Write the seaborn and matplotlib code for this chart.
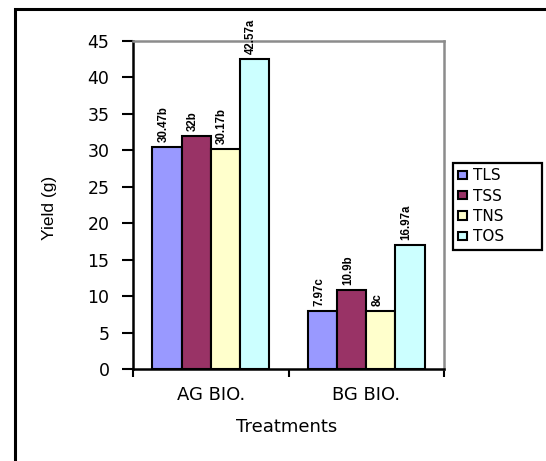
import seaborn as sns
import pandas as pd
from matplotlib import pyplot as plt
from matplotlib.patches import Rectangle

groups = ['AG BIO.', 'BG BIO.']
series = ['TLS', 'TSS', 'TNS', 'TOS']
tls = [30.47, 7.97]
tss = [32, 10.9]
tns = [30.17, 8]
tos = [42.57, 16.97]
tls_lab = ['30.47b', '7.97c']
tss_lab = ['32b', '10.9b']
tns_lab = ['30.17b', '8c']
tos_lab = ['42.57a', '16.97a']
colors = ['#9999FF', '#993366', '#FFFFCC', '#CCFFFF']

rows = []
for s, vals in zip(series, [tls, tss, tns, tos]):
    for g, v in zip(groups, vals):
        rows.append({'Treatments': g, 'Series': s, 'Yield': v})
df = pd.DataFrame(rows)

sns.set_style('white')
plt.rcParams['font.family'] = ['DejaVu Sans']
for key in ['text.color', 'axes.labelcolor', 'xtick.color', 'ytick.color']:
    plt.rcParams[key] = 'black'
narrow = ['Liberation Sans Narrow', 'Liberation Sans', 'DejaVu Sans']

fig = plt.figure(figsize=(5.46, 4.61), dpi=100)
ax = fig.add_axes([133 / 546, 1 - 369 / 461, 311 / 546, 328 / 461])

sns.barplot(data=df, x='Treatments', y='Yield', hue='Series',
            palette=colors, edgecolor='black', linewidth=1.5,
            width=0.75, saturation=1, ax=ax)

# value labels (rotated, a touch left of the bar centre like Excel)
labels = [tls_lab, tss_lab, tns_lab, tos_lab]
for cont, labs in zip(ax.containers, labels):
    for bar, lab in zip(cont.patches, labs):
        ax.annotate(lab, xy=(bar.get_x() + bar.get_width() / 2, bar.get_height()),
                    xytext=(-2.5, 3.5), textcoords='offset points',
                    rotation=90, ha='center', va='bottom', fontsize=8.3,
                    fontweight='bold', family=narrow, annotation_clip=False)

ax.set_ylim(0, 45)
ax.set_xlim(-0.5, 1.5)
ax.set_yticks(range(0, 50, 5))
ax.set_xticks([-0.5, 0.5, 1.5])
ax.set_xticklabels(['', '', ''])
ax.set_xticks([0, 1], minor=True)
ax.set_xticklabels(groups, minor=True, fontsize=13)
ax.tick_params(axis='x', which='minor', length=0, pad=12.5)
ax.tick_params(axis='x', which='major', length=6, width=1.5, direction='out',
               bottom=True)
ax.tick_params(axis='y', length=8, width=1.5, direction='out',
               labelsize=12.5, left=True, pad=9)

for side in ['top', 'right']:
    ax.spines[side].set_color('#8c8c8c')
    ax.spines[side].set_linewidth(1.8)
for side in ['left', 'bottom']:
    ax.spines[side].set_color('black')
    ax.spines[side].set_linewidth(1.8)

ax.set_ylabel('Yield (g)', fontsize=12.5,
              family=['Liberation Sans', 'DejaVu Sans'])
ax.yaxis.set_label_coords(-0.244, 0.49)
ax.set_xlabel('Treatments', fontsize=13)
ax.xaxis.set_label_coords(0.495, -0.148)

ax.legend(loc='upper left', bbox_to_anchor=(452.7 / 546, 1 - 249 / 461, 89 / 546, 86 / 461),
          bbox_transform=fig.transFigure, mode='expand', frameon=True,
          fancybox=False, edgecolor='black', fontsize=11, handlelength=0.6,
          handleheight=0.45, handletextpad=0.4, borderpad=0.35, labelspacing=0.35,
          borderaxespad=0)
leg = ax.get_legend()
leg.get_frame().set_linewidth(1.6)
leg.get_frame().set_alpha(1)
for h in leg.legend_handles:
    h.set_edgecolor('black')
    h.set_linewidth(1.5)

fig.patches.append(Rectangle((14.5 / 546, -0.2), 1.5, 0.2 + 1 - 8.5 / 461,
                             transform=fig.transFigure, fill=False,
                             edgecolor='black', linewidth=2.2))

fig.savefig('out.png', dpi=100)
